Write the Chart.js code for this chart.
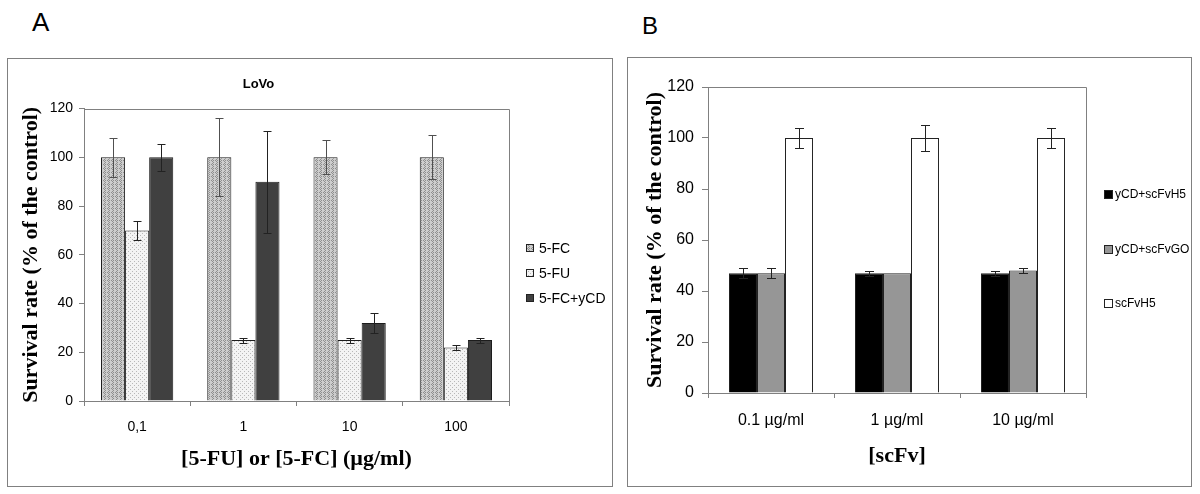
<!DOCTYPE html>
<html>
<head>
<meta charset="utf-8">
<script src="https://cdn.jsdelivr.net/npm/chart.js@4.4.1/dist/chart.umd.min.js"></script>
<style>
    body { margin: 0; background: #fff; width: 1200px; height: 494px; position: relative; overflow: hidden;
           font-family: "Liberation Sans", Arial, sans-serif; }
    .letter { position: absolute; color: #000; }
    .frame { position: absolute; box-sizing: border-box; border: 1px solid #808080; background: #fff; }
    .frame canvas { display: block; }
</style>
</head>
<body>
<div class="letter" style="left:32px;top:9px;font-size:26px;line-height:26px">A</div>
<div class="letter" style="left:642px;top:14px;font-size:24px;line-height:24px">B</div>
<div class="frame" style="left:7px;top:58px;width:606px;height:429px"><canvas id="chartA" width="604" height="427"></canvas></div>
<div class="frame" style="left:627px;top:57px;width:565px;height:430px"><canvas id="chartB" width="563" height="428"></canvas></div>

<script>
// ---------------- Dados ----------------
// Painel A (LoVo)
const doseLabels = ['0,1', '1', '10', '100'];
const fcValues = [100, 100, 100, 100];
const fcErrors = [8, 16, 7, 9];
const fuValues = [70, 25, 25, 22];
const fuErrors = [4, 1, 1, 1];
const fcYcdValues = [100, 90, 32, 25];
const fcYcdErrors = [5.5, 21, 4, 1];

// Painel B (scFv)
const scfvLabels = ['0.1 µg/ml', '1 µg/ml', '10 µg/ml'];
const h5Values = [47, 47, 47];
const h5Errors = [2, 1, 1];
const goValues = [47, 47, 48];
const goErrors = [2, 0, 1];
const scfvH5Values = [100, 100, 100];
const scfvH5Errors = [4, 5, 4];

// Eixo y (os dois painéis)
const yTicks = [0, 20, 40, 60, 80, 100, 120];
//----------------------------------------

const SANS = '"Liberation Sans", Arial, sans-serif';
const SERIF = '"Liberation Serif", "Times New Roman", serif';
const AXIS_GRAY = '#808080';

Chart.defaults.font.family = SANS;
Chart.defaults.color = '#000';

// Texturas das barras (estilo Excel)
function makePattern(size, base, ink, cells) {
    const c = document.createElement('canvas');
    c.width = size;
    c.height = size;
    const g = c.getContext('2d');
    g.fillStyle = base;
    g.fillRect(0, 0, size, size);
    g.fillStyle = ink;
    cells.forEach(p => g.fillRect(p[0], p[1], 1, 1));
    return g.createPattern(c, 'repeat');
}
const fcPattern = makePattern(4, '#cdcdcd', '#8e8e8e', [[0, 0], [2, 0], [1, 1], [0, 2], [3, 1], [2, 2], [1, 3], [3, 3]].filter((p, k) => k % 2 === 0 || k === 3));
const fuPattern = makePattern(4, '#f3f3f3', '#b8b8b8', [[0, 0], [2, 2]]);

// Barras de erro
const errorBars = {
    id: 'errorBars',
    afterDatasetsDraw(chart, args, opts) {
        const ctx = chart.ctx;
        const y = chart.scales.y;
        chart.data.datasets.forEach((ds, i) => {
            const meta = chart.getDatasetMeta(i);
            meta.data.forEach((bar, j) => {
                const e = ds.err[j];
                if (!e) return;
                const x = Math.round(bar.x) + 0.5;
                const top = Math.round(y.getPixelForValue(ds.data[j] + e)) + 0.5;
                const bot = Math.round(y.getPixelForValue(ds.data[j] - e)) + 0.5;
                ctx.save();
                ctx.strokeStyle = ds.errColor || opts.color;
                ctx.lineWidth = 1;
                ctx.beginPath();
                ctx.moveTo(x, top); ctx.lineTo(x, bot);
                ctx.moveTo(x - opts.cap, top); ctx.lineTo(x + opts.cap, top);
                ctx.moveTo(x - opts.cap, bot); ctx.lineTo(x + opts.cap, bot);
                ctx.stroke();
                ctx.restore();
            });
        });
    }
};

// Moldura cinza da área do gráfico (topo e direita)
const plotBox = {
    id: 'plotBox',
    beforeDatasetsDraw(chart) {
        const a = chart.chartArea;
        const ctx = chart.ctx;
        ctx.save();
        ctx.strokeStyle = AXIS_GRAY;
        ctx.lineWidth = 1;
        ctx.beginPath();
        ctx.moveTo(Math.round(a.left) + 0.5, Math.round(a.top) + 0.5);
        ctx.lineTo(Math.round(a.right) + 0.5, Math.round(a.top) + 0.5);
        ctx.lineTo(Math.round(a.right) + 0.5, Math.round(a.bottom) + 0.5);
        ctx.stroke();
        ctx.restore();
    }
};

// Legenda à direita
const sideLegend = {
    id: 'sideLegend',
    afterDraw(chart, args, opts) {
        const ctx = chart.ctx;
        const x0 = Math.round(chart.chartArea.right + opts.x);
        ctx.save();
        ctx.font = opts.font;
        ctx.textBaseline = 'middle';
        ctx.textAlign = 'left';
        chart.data.datasets.forEach((ds, i) => {
            const cy = Math.round(opts.top + i * opts.gap);
            const by = cy - Math.floor(opts.box / 2);
            ctx.fillStyle = ds.backgroundColor;
            ctx.fillRect(x0, by, opts.box, opts.box);
            ctx.strokeStyle = '#222';
            ctx.lineWidth = 1;
            ctx.strokeRect(x0 + 0.5, by + 0.5, opts.box - 1, opts.box - 1);
            ctx.fillStyle = '#000';
            ctx.fillText(ds.label, x0 + opts.textGap, cy + 1);
        });
        ctx.restore();
    }
};

function yTickSetup(scale) {
    scale.ticks = yTicks.map(v => ({ value: v }));
}

//               Painel A             //
new Chart(document.getElementById('chartA'), {
    type: 'bar',
    data: {
        labels: doseLabels,
        datasets: [{
            label: '5-FC',
            data: fcValues,
            err: fcErrors,
            errColor: '#505050',
            backgroundColor: fcPattern,
        }, {
            label: '5-FU',
            data: fuValues,
            err: fuErrors,
            backgroundColor: fuPattern,
        }, {
            label: '5-FC+yCD',
            data: fcYcdValues,
            err: fcYcdErrors,
            backgroundColor: '#404040',
        }],
    },
    options: {
        responsive: false,
        animation: false,
        layout: { padding: { top: 0, right: 103, bottom: 0, left: 0 } },
        datasets: {
            bar: { borderColor: '#1c1c1c', borderWidth: 1, categoryPercentage: 0.68, barPercentage: 1 }
        },
        scales: {
            x: {
                grid: { drawOnChartArea: false, tickLength: 5, color: AXIS_GRAY, offset: true },
                border: { color: AXIS_GRAY },
                ticks: { font: { size: 14 }, color: '#000', padding: 13 },
                title: {
                    display: true,
                    text: '[5-FU] or [5-FC] (µg/ml)',
                    font: { family: SERIF, size: 22, weight: 'bold' },
                    color: '#000',
                    padding: { top: 0, bottom: 13 }
                },
                afterFit: s => { s.height = 85; }
            },
            y: {
                min: 0,
                max: 120,
                afterBuildTicks: yTickSetup,
                grid: { drawOnChartArea: false, tickLength: 5, color: AXIS_GRAY },
                border: { color: AXIS_GRAY },
                ticks: { font: { size: 14 }, color: '#000', padding: 6 },
                title: {
                    display: true,
                    text: 'Survival rate (% of the control)',
                    font: { family: SERIF, size: 22, weight: 'bold' },
                    color: '#000',
                    padding: { top: 10, bottom: 0 }
                },
                afterFit: s => { s.width = 76; }
            }
        },
        plugins: {
            legend: { display: false },
            tooltip: { enabled: false },
            title: {
                display: true,
                text: 'LoVo',
                font: { family: SANS, size: 13, weight: 'bold' },
                color: '#000',
                padding: { top: 18, bottom: 16 }
            },
            errorBars: { color: '#222', cap: 4 },
            sideLegend: { x: 17, top: 189, gap: 25, box: 8, textGap: 13, font: '14px ' + SANS }
        }
    },
    plugins: [plotBox, errorBars, sideLegend]
});
//------------------------------------//

//               Painel B             //
new Chart(document.getElementById('chartB'), {
    type: 'bar',
    data: {
        labels: scfvLabels,
        datasets: [{
            label: 'yCD+scFvH5',
            data: h5Values,
            err: h5Errors,
            backgroundColor: '#000000',
        }, {
            label: 'yCD+scFvGO',
            data: goValues,
            err: goErrors,
            backgroundColor: '#969696',
        }, {
            label: 'scFvH5',
            data: scfvH5Values,
            err: scfvH5Errors,
            backgroundColor: '#ffffff',
        }],
    },
    options: {
        responsive: false,
        animation: false,
        layout: { padding: { top: 29, right: 105, bottom: 0, left: 0 } },
        datasets: {
            bar: { borderColor: '#222', borderWidth: 1, categoryPercentage: 0.667, barPercentage: 1 }
        },
        scales: {
            x: {
                grid: { drawOnChartArea: false, tickLength: 5, color: AXIS_GRAY, offset: true },
                border: { color: AXIS_GRAY },
                ticks: { font: { size: 16 }, color: '#000', padding: 13 },
                title: {
                    display: true,
                    text: '[scFv]',
                    font: { family: SERIF, size: 22, weight: 'bold' },
                    color: '#000',
                    padding: { top: 0, bottom: 16 }
                },
                afterFit: s => { s.height = 93; }
            },
            y: {
                min: 0,
                max: 120,
                afterBuildTicks: yTickSetup,
                grid: { drawOnChartArea: false, tickLength: 6, color: AXIS_GRAY },
                border: { color: AXIS_GRAY },
                ticks: { font: { size: 16 }, color: '#000', padding: 8 },
                title: {
                    display: true,
                    text: 'Survival rate (% of the control)',
                    font: { family: SERIF, size: 22, weight: 'bold' },
                    color: '#000',
                    padding: { top: 14, bottom: 0 }
                },
                afterFit: s => { s.width = 80; }
            }
        },
        plugins: {
            legend: { display: false },
            tooltip: { enabled: false },
            errorBars: { color: '#222', cap: 4.5 },
            sideLegend: { x: 18, top: 136, gap: 54.5, box: 9, textGap: 11, font: '12px ' + SANS }
        }
    },
    plugins: [plotBox, errorBars, sideLegend]
});
//------------------------------------//
</script>
</body>
</html>
